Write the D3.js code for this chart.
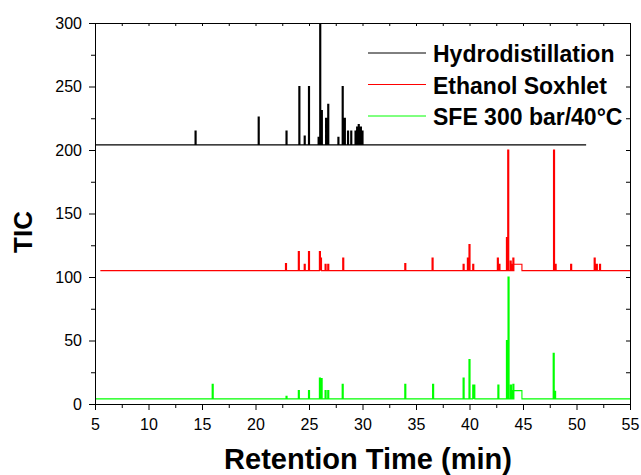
<!DOCTYPE html>
<html>
<head>
<meta charset="utf-8">
<script src="https://cdn.jsdelivr.net/npm/d3@7"></script>
<style>
  body { margin: 0; background: #fff; }
  svg { display: block; font-family: "Liberation Sans", Arial, sans-serif; }
</style>
</head>
<body>
<svg id="chart"></svg>
<script>
// retention time (min), TIC height for each visible peak
const hydroPeaks = [
  [14.4, 215], [20.3, 226], [22.9, 215], [24.1, 250], [24.6, 211], [25.0, 250],
  [25.9, 210], [26.05, 300], [26.2, 231], [26.6, 225], [26.8, 236], [27.75, 210],
  [28.15, 250], [28.35, 225], [28.65, 215], [28.95, 215], [29.35, 215], [29.5, 218],
  [29.65, 220], [29.85, 218], [30.0, 215]
];
const ethanolPeaks = [
  [22.85, 110.5], [24.05, 120], [24.6, 110], [25.0, 120], [26.02, 120], [26.12, 115],
  [26.55, 110], [26.8, 110], [28.2, 115], [34.0, 110.5], [36.55, 115], [39.45, 110],
  [39.85, 115], [40.0, 125.5], [40.35, 110], [42.65, 115], [42.8, 110], [43.5, 131],
  [43.62, 200], [43.85, 112.5], [44.1, 115], [44.45, 110, 0.9], [47.9, 200], [48.05, 110],
  [49.5, 110], [51.7, 115], [51.9, 110], [52.2, 110]
];
const sfePeaks = [
  [16.0, 15.5], [22.9, 6], [24.05, 10.5], [25.0, 10.5], [26.02, 20.5], [26.18, 20],
  [26.55, 10.5], [26.8, 10.5], [28.15, 15.5], [34.0, 15.5], [36.6, 15.5], [39.45, 20.5],
  [40.0, 35], [40.35, 15], [40.45, 15], [42.7, 15], [43.5, 50], [43.65, 100],
  [43.87, 15], [44.1, 15.5], [44.45, 10.5, 0.9], [47.87, 40], [48.0, 10]
];

const seriesNames = ["Hydrodistillation", "Ethanol Soxhlet", "SFE 300 bar/40\u00b0C"];
const seriesColors = ["#000000", "#ff0000", "#00ff00"];
const baselines = [204, 105, 4];
const timeRanges = [[5, 50.9], [5.5, 55], [5, 55]];

const xTicks = [5, 10, 15, 20, 25, 30, 35, 40, 45, 50, 55];
const yTicks = [0, 50, 100, 150, 200, 250, 300];

const margin = { top: 23, right: 11, bottom: 71, left: 95 };
const width = 641 - margin.left - margin.right;
const height = 475 - margin.top - margin.bottom;

const root = d3.select("#chart")
  .attr("width", 641)
  .attr("height", 475);

const svg = root.append("g")
  .attr("transform", `translate(${margin.left},${margin.top})`);

const x = d3.scaleLinear().domain([5, 55]).range([0, width]);
const y = d3.scaleLinear().domain([0, 300]).range([height, 0]);

svg.append("clipPath").attr("id", "plot-clip")
  .append("rect").attr("width", width).attr("height", height);

// chromatogram trace: flat baseline with narrow stepped peaks
function trace(peaks, base, range) {
  const pts = [[range[0], base]];
  peaks.forEach(([t, h, w]) => {
    const hw = (w || 0.1) / 2;
    pts.push([t - hw, base], [t - hw, h], [t + hw, h], [t + hw, base]);
  });
  pts.push([range[1], base]);
  return pts;
}

const line = d3.line().x(d => x(d[0])).y(d => y(d[1]));
const allPeaks = [hydroPeaks, ethanolPeaks, sfePeaks];

svg.append("g").attr("clip-path", "url(#plot-clip)")
  .selectAll("path")
  .data(allPeaks)
  .enter().append("path")
  .attr("d", (p, i) => line(trace(p, baselines[i], timeRanges[i])))
  .attr("fill", "none")
  .attr("stroke", (p, i) => seriesColors[i])
  .attr("stroke-width", 1.1);

// axes
const tickFont = g => g.selectAll("text")
  .style("font-size", "16px")
  .style("font-family", "'Liberation Sans', Arial, sans-serif")
  .attr("fill", "#000");

svg.append("g")
  .attr("transform", `translate(0,${height})`)
  .call(d3.axisBottom(x).tickValues(xTicks).tickSize(6).tickSizeOuter(0).tickPadding(9).tickFormat(d3.format("d")))
  .call(tickFont);
svg.append("g")
  .attr("transform", `translate(0,${height})`)
  .call(d3.axisBottom(x).tickValues(xTicks.slice(0, -1).map(v => v + 2.5)).tickSize(4).tickFormat(""))
  .call(g => g.select(".domain").remove());

svg.append("g")
  .call(d3.axisLeft(y).tickValues(yTicks).tickSize(6).tickSizeOuter(0).tickPadding(7))
  .call(tickFont);
svg.append("g")
  .call(d3.axisLeft(y).tickValues(yTicks.slice(0, -1).map(v => v + 25)).tickSize(4).tickFormat(""))
  .call(g => g.select(".domain").remove());

// top and right: inward ticks, no labels
svg.append("g")
  .call(d3.axisBottom(x).tickValues(d3.range(5, 55.1, 2.5)).tickSize(3).tickSizeOuter(0).tickFormat(""));
svg.append("g")
  .attr("transform", `translate(${width},0)`)
  .call(d3.axisLeft(y).tickValues(d3.range(0, 301, 25)).tickSize(4).tickSizeOuter(0).tickFormat(""));

svg.selectAll(".domain, .tick line").attr("stroke", "#000").attr("stroke-width", 1);

// legend
const legend = root.append("g");
seriesNames.forEach((name, i) => {
  const ly = 53 + i * 31.5;
  legend.append("line")
    .attr("x1", 368).attr("x2", 426)
    .attr("y1", ly).attr("y2", ly)
    .attr("stroke", seriesColors[i]).attr("stroke-width", 1);
  legend.append("text")
    .attr("x", 433).attr("y", ly + 9)
    .style("font-size", "23px").style("font-weight", "bold")
    .text(name);
});

// axis titles
root.append("text")
  .attr("transform", "translate(32,232) rotate(-90)")
  .attr("text-anchor", "middle")
  .style("font-size", "26px").style("font-weight", "bold")
  .text("TIC");

root.append("text")
  .attr("x", 368).attr("y", 469)
  .attr("text-anchor", "middle")
  .style("font-size", "29px").style("font-weight", "bold")
  .text("Retention Time (min)");
</script>
</body>
</html>
